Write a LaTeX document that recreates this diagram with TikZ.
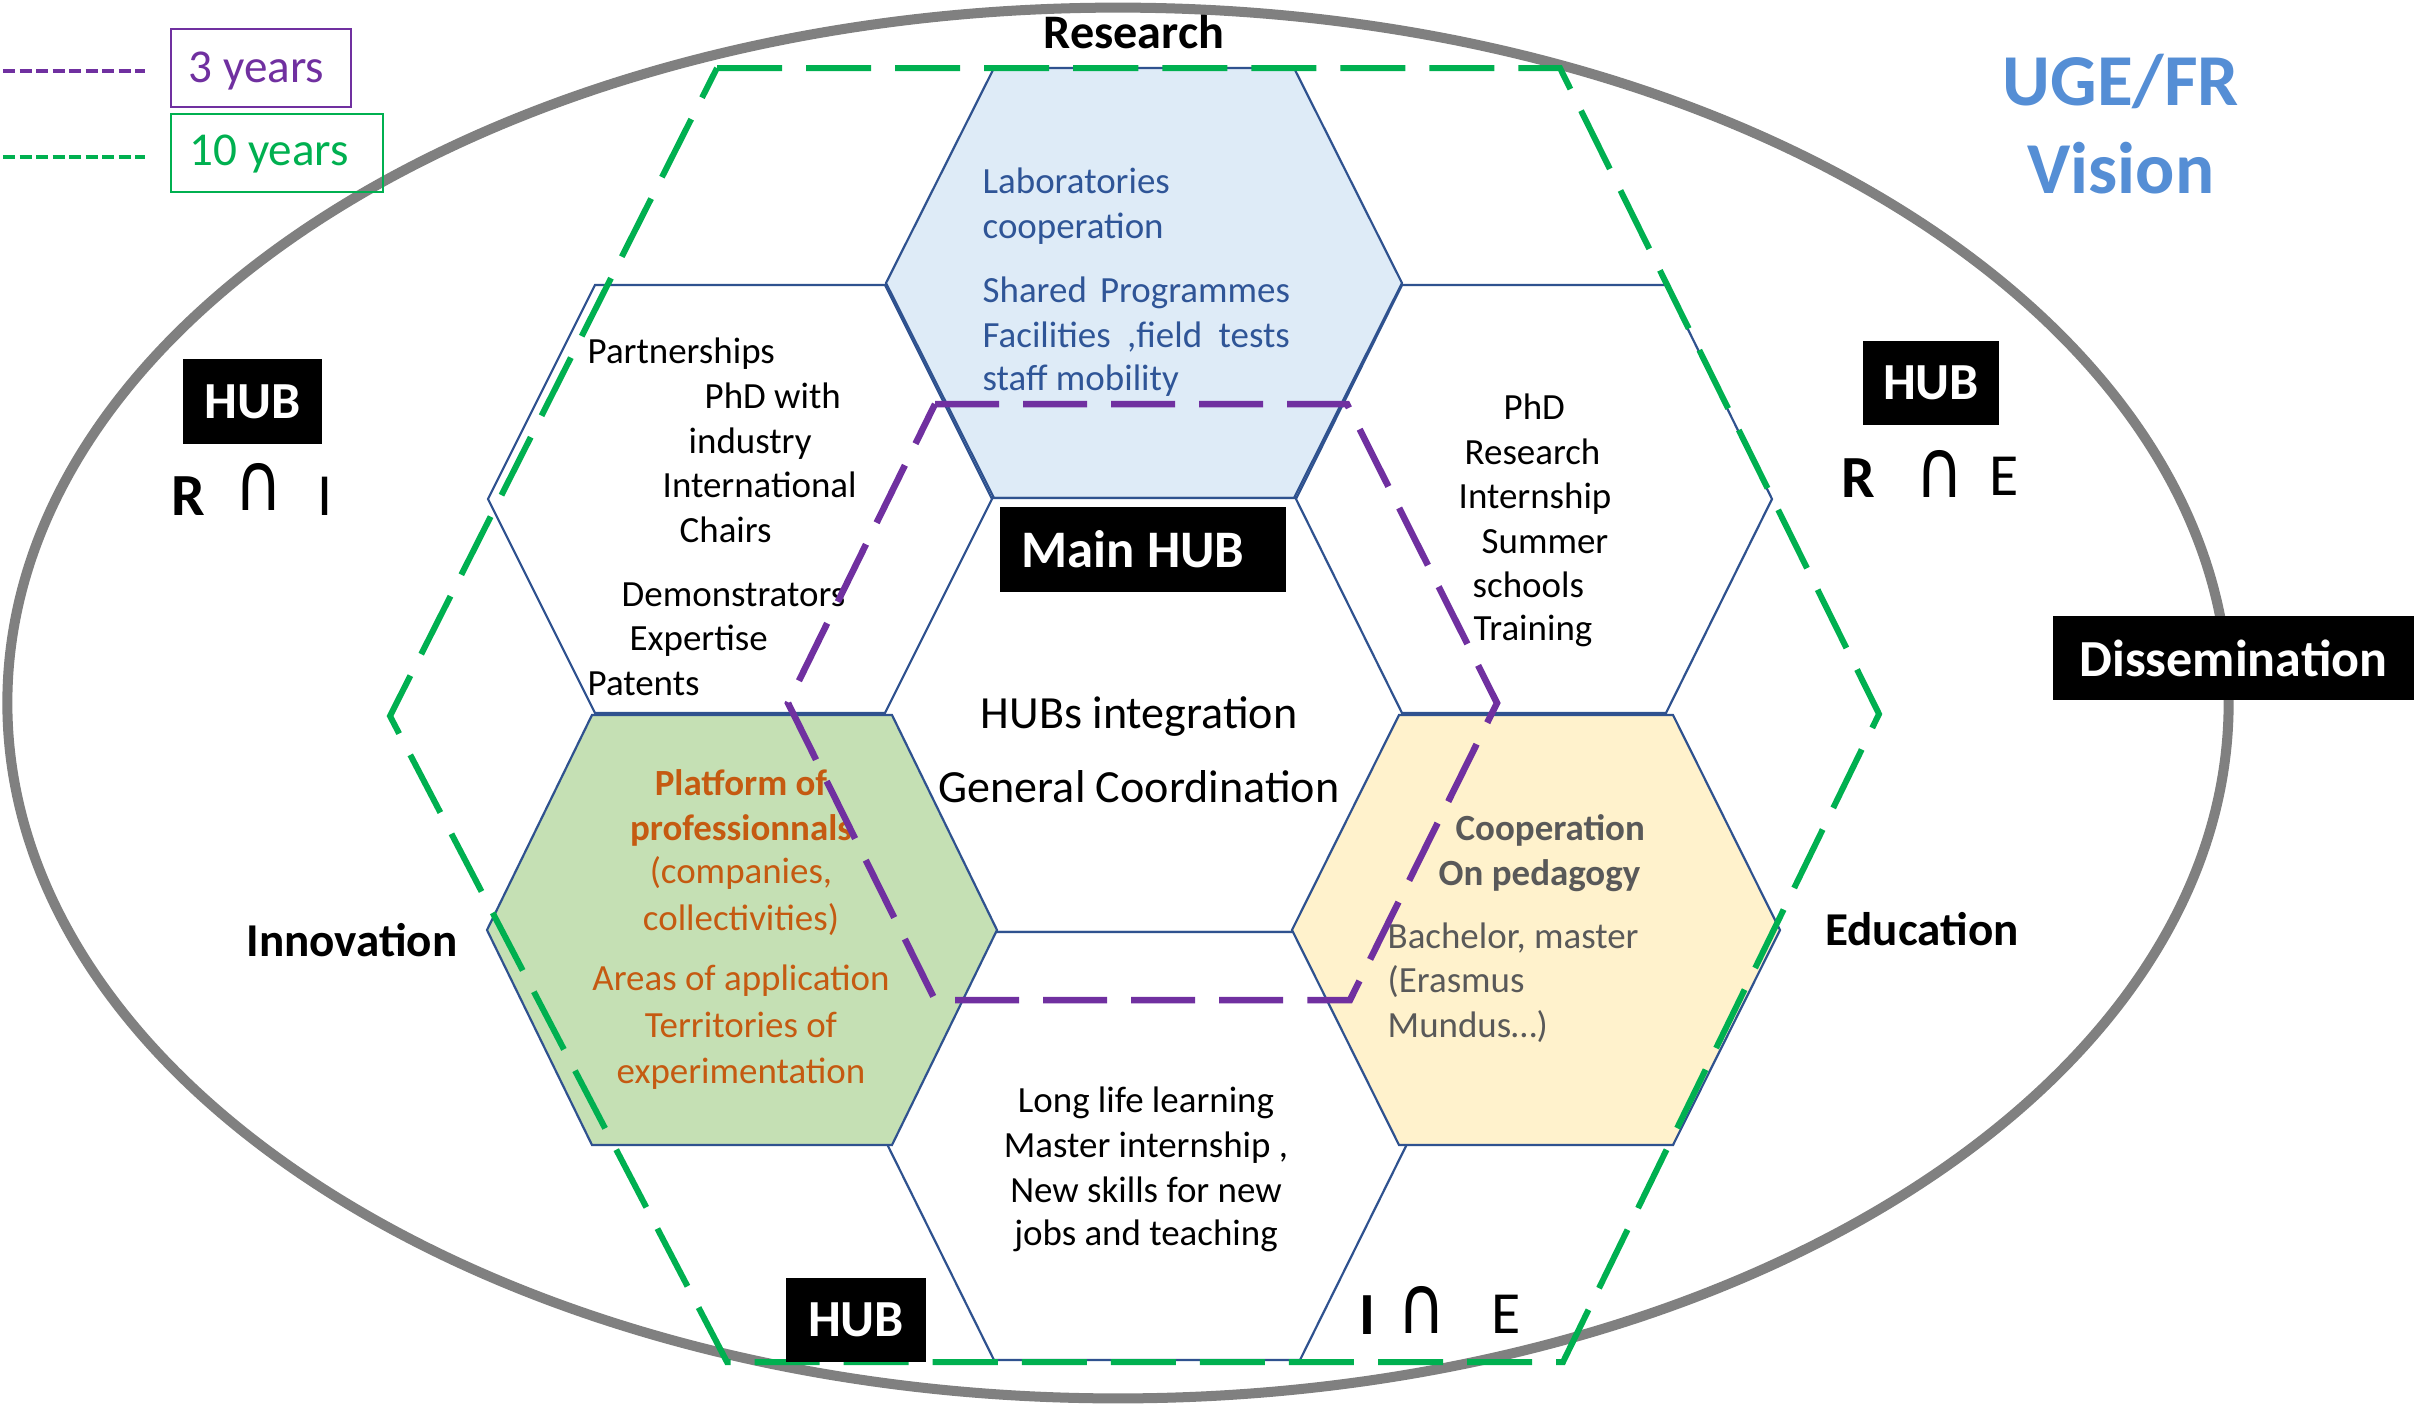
\documentclass[tikz,border=0pt]{standalone}
\usepackage{fontspec}
\setmainfont{Carlito}
\newfontfamily\dejavu{DejaVu Sans}
\usepackage{graphicx}
\definecolor{ellgray}{HTML}{808080}
\definecolor{hexblue}{HTML}{2F528F}
\definecolor{fillblue}{HTML}{DEEBF7}
\definecolor{fillgreen}{HTML}{C5E0B4}
\definecolor{fillyellow}{HTML}{FFF2CC}
\definecolor{txtblue}{HTML}{2F5597}
\definecolor{txtorange}{HTML}{C55A11}
\definecolor{txtgray}{HTML}{595959}
\definecolor{titleblue}{HTML}{558ED5}
\definecolor{dpurple}{HTML}{7030A0}
\definecolor{dgreen}{HTML}{00B050}
\newcommand\hexdraw[6]{\draw[#6] ({#1-#3},{#2}) -- ({#1-#4},{#2-#5}) -- ({#1+#4},{#2-#5}) -- ({#1+#3},{#2}) -- ({#1+#4},{#2+#5}) -- ({#1-#4},{#2+#5}) -- cycle;}
\newcommand\capglyph{\scalebox{1.35}[1.65]{∩}}
\begin{document}
\begin{tikzpicture}[x=0.01cm,y=-0.01cm,
  hexline/.style={draw=hexblue, line width=0.022cm, line join=miter},
  txt/.style={inner sep=0pt, font=\fontsize{10.5}{12.6}\selectfont},
  tl/.style={txt, anchor=base west, xshift=-0.04cm},
  tc/.style={txt, anchor=base},
  bigtxt/.style={inner sep=0pt, anchor=base, font=\fontsize{13.1}{15.7}\selectfont},
  axis/.style={inner sep=0pt, anchor=base, font=\bfseries\fontsize{13.4}{16}\selectfont},
  blk/.style={fill=black, text=white, inner sep=0pt, font=\bfseries\fontsize{14.8}{17.7}\selectfont},
  setR/.style={inner sep=0pt, anchor=base, font=\fontsize{17}{20}\selectfont},
  capsym/.style={inner sep=0pt, anchor=base, font=\dejavu\fontsize{14}{17}\selectfont},
  legtxt/.style={inner sep=0pt, anchor=base west, font=\fontsize{13.4}{16}\selectfont},
  tenyear/.style={draw=dgreen, line width=0.06cm, dash pattern=on 0.65cm off 0.24cm, line join=miter},
  threeyear/.style={draw=dpurple, line width=0.065cm, dash pattern=on 0.64cm off 0.24cm, line join=miter}
]
\fill[white] (0,0) rectangle (2417,1408);
\useasboundingbox (0,0) rectangle (2417,1408);

% honeycomb
\hexdraw{1144}{283}{258}{150}{215}{hexline, fill=fillblue}
\hexdraw{1142}{715}{262}{155}{217}{hexline, fill=white}
\hexdraw{1147}{1146}{259}{153}{214}{hexline, fill=white}
\hexdraw{740}{499}{252}{145}{214}{hexline, fill=white}
\hexdraw{742}{930}{255}{150}{215}{hexline, fill=fillgreen}
\hexdraw{1534}{499}{238}{132}{214}{hexline, fill=white}
\hexdraw{1536}{930}{244}{137}{215}{hexline, fill=fillyellow}

% research hexagon text
\begin{scope}[every node/.style={text=txtblue}]
\node[tl] (r1) at (986,193) {Laboratories};
\node[tl] (r2) at (986,238) {cooperation};
\node[tl] (r3) at (986,302) {\makebox[3.07cm][s]{Shared Programmes}};
\node[tl] (r4) at (986,347) {\makebox[3.07cm][s]{Facilities ,field tests}};
\node[tl] (r5) at (986,390) {staff mobility};
\end{scope}

% upper-left hexagon text
\node[tl] (u1) at (591,363) {Partnerships};
\node[tl] (u2) at (708,408) {PhD with};
\node[tl] (u3) at (692,453) {industry};
\node[tl] (u4) at (666,497) {International};
\node[tl] (u5) at (683,542) {Chairs};
\node[tl] (u6) at (625,606) {Demonstrators};
\node[tl] (u7) at (633,650) {Expertise};
\node[tl] (u8) at (591,695) {Patents};

% upper-right hexagon text
\node[tl] (e1) at (1507,419) {PhD};
\node[tl] (e2) at (1468,464) {Research};
\node[tl] (e3) at (1462,508) {Internship};
\node[tl] (e4) at (1485,553) {Summer};
\node[tl] (e5) at (1476,597) {schools};
\node[tl] (e6) at (1477,640) {Training};

% center hexagon text
\node[bigtxt] (c1) at (1139,728) {HUBs integration};
\node[bigtxt] (c2) at (1139,802) {General Coordination};

% green hexagon text
\begin{scope}[every node/.style={text=txtorange}]
\node[tc] (g1) at (741,795) {\bfseries Platform of};
\node[tc] (g2) at (741,840) {\bfseries professionnals};
\node[tc] (g3) at (741,883) {(companies,};
\node[tc] (g4) at (741,930) {collectivities)};
\node[tc] (g5) at (741,990) {Areas of application};
\node[tc] (g6) at (741,1037) {Territories of};
\node[tc] (g7) at (741,1083) {experimentation};
\end{scope}

% yellow hexagon text
\begin{scope}[every node/.style={text=txtgray}]
\node[tl] (y1) at (1459,840) {\bfseries Cooperation};
\node[tl] (y2) at (1442,885) {\bfseries On pedagogy};
\node[tl] (y3) at (1391,948) {Bachelor, master};
\node[tl] (y4) at (1391,992) {(Erasmus};
\node[tl] (y5) at (1391,1037) {Mundus…)};
\end{scope}

% bottom hexagon text
\node[tc] (b1) at (1146,1112) {Long life learning};
\node[tc] (b2) at (1146,1157) {Master internship ,};
\node[tc] (b3) at (1146,1202) {New skills for new};
\node[tc] (b4) at (1146,1245) {jobs and teaching};

% axis labels
\node[axis, font=\bfseries\fontsize{13.7}{16}\selectfont] (research) at (1134,48) {Research};
\node[axis] (innovation) at (352,956) {Innovation};
\node[axis] (education) at (1922,945) {Education};

% title
\node[inner sep=0pt, anchor=base, text=titleblue, font=\bfseries\fontsize{20.8}{24}\selectfont] (t1) at (2121,105) {UGE/FR};
\node[inner sep=0pt, anchor=base, text=titleblue, font=\bfseries\fontsize{20.8}{24}\selectfont] (t2) at (2121,193) {Vision};

% outer ellipse
\draw[ellgray, line width=0.1cm] (1118,703) ellipse [x radius=11.10cm, y radius=6.95cm];

% dashed horizons
\draw[threeyear] (935,404) -- (1347,404) -- (1497,703) -- (1350,1000) -- (935,1000) -- (788,703) -- cycle;
\draw[tenyear] (717,68) -- (1560,68) -- (1879,714) -- (1563,1362) -- (727,1362) -- (390,716) -- cycle;

% HUB boxes
\node[blk, minimum width=1.39cm, minimum height=0.85cm] (hubL) at (252.5,401.5) {HUB};
\node[blk, minimum width=1.36cm, minimum height=0.84cm] (hubR) at (1931,383) {HUB};
\node[blk, minimum width=1.40cm, minimum height=0.84cm] (hubB) at (856,1320) {HUB};
\node[blk, minimum width=2.86cm, minimum height=0.85cm, font=\bfseries\fontsize{15}{18}\selectfont] (mainhub) at (1143,549.5) {Main HUB\hspace*{0.2cm}};
\node[blk, minimum width=3.61cm, minimum height=0.84cm] (dissem) at (2233.5,658) {Dissemination};

% intersection labels
\node[setR, font=\bfseries\fontsize{17}{20}\selectfont] (lR) at (188,515) {R};
\node[capsym] (lcap) at (259,510) {\capglyph};
\node[setR] (lI) at (325.5,515) {I};
\node[setR, font=\bfseries\fontsize{17}{20}\selectfont] (rR) at (1858,497) {R};
\node[capsym] (rcap) at (1939.5,497) {\capglyph};
\node[setR] (rE) at (2004.5,495) {E};
\node[setR, font=\bfseries\fontsize{17}{20}\selectfont] (bI) at (1367.5,1334) {I};
\node[capsym] (bcap) at (1422,1333) {\capglyph};
\node[setR] (bE) at (1506,1333) {E};

% legend
\coordinate (lp1) at (3,71);
\coordinate (lp2) at (145,71);
\coordinate (lg1) at (3,157);
\coordinate (lg2) at (145,157);
\draw[dpurple, line width=0.04cm, dash pattern=on 0.12cm off 0.045cm] (lp1) -- (lp2);
\draw[dgreen, line width=0.04cm, dash pattern=on 0.12cm off 0.045cm] (lg1) -- (lg2);
\node[draw=dpurple, line width=0.02cm, minimum width=1.80cm, minimum height=0.78cm, inner sep=0pt] (box3) at (261,68) {};
\node[legtxt, text=dpurple] (leg3) at (188,82) {3 years};
\node[draw=dgreen, line width=0.02cm, minimum width=2.12cm, minimum height=0.78cm, inner sep=0pt] (box10) at (277,153) {};
\node[legtxt, text=dgreen] (leg10) at (189,165) {10 years};
\end{tikzpicture}
\end{document}
